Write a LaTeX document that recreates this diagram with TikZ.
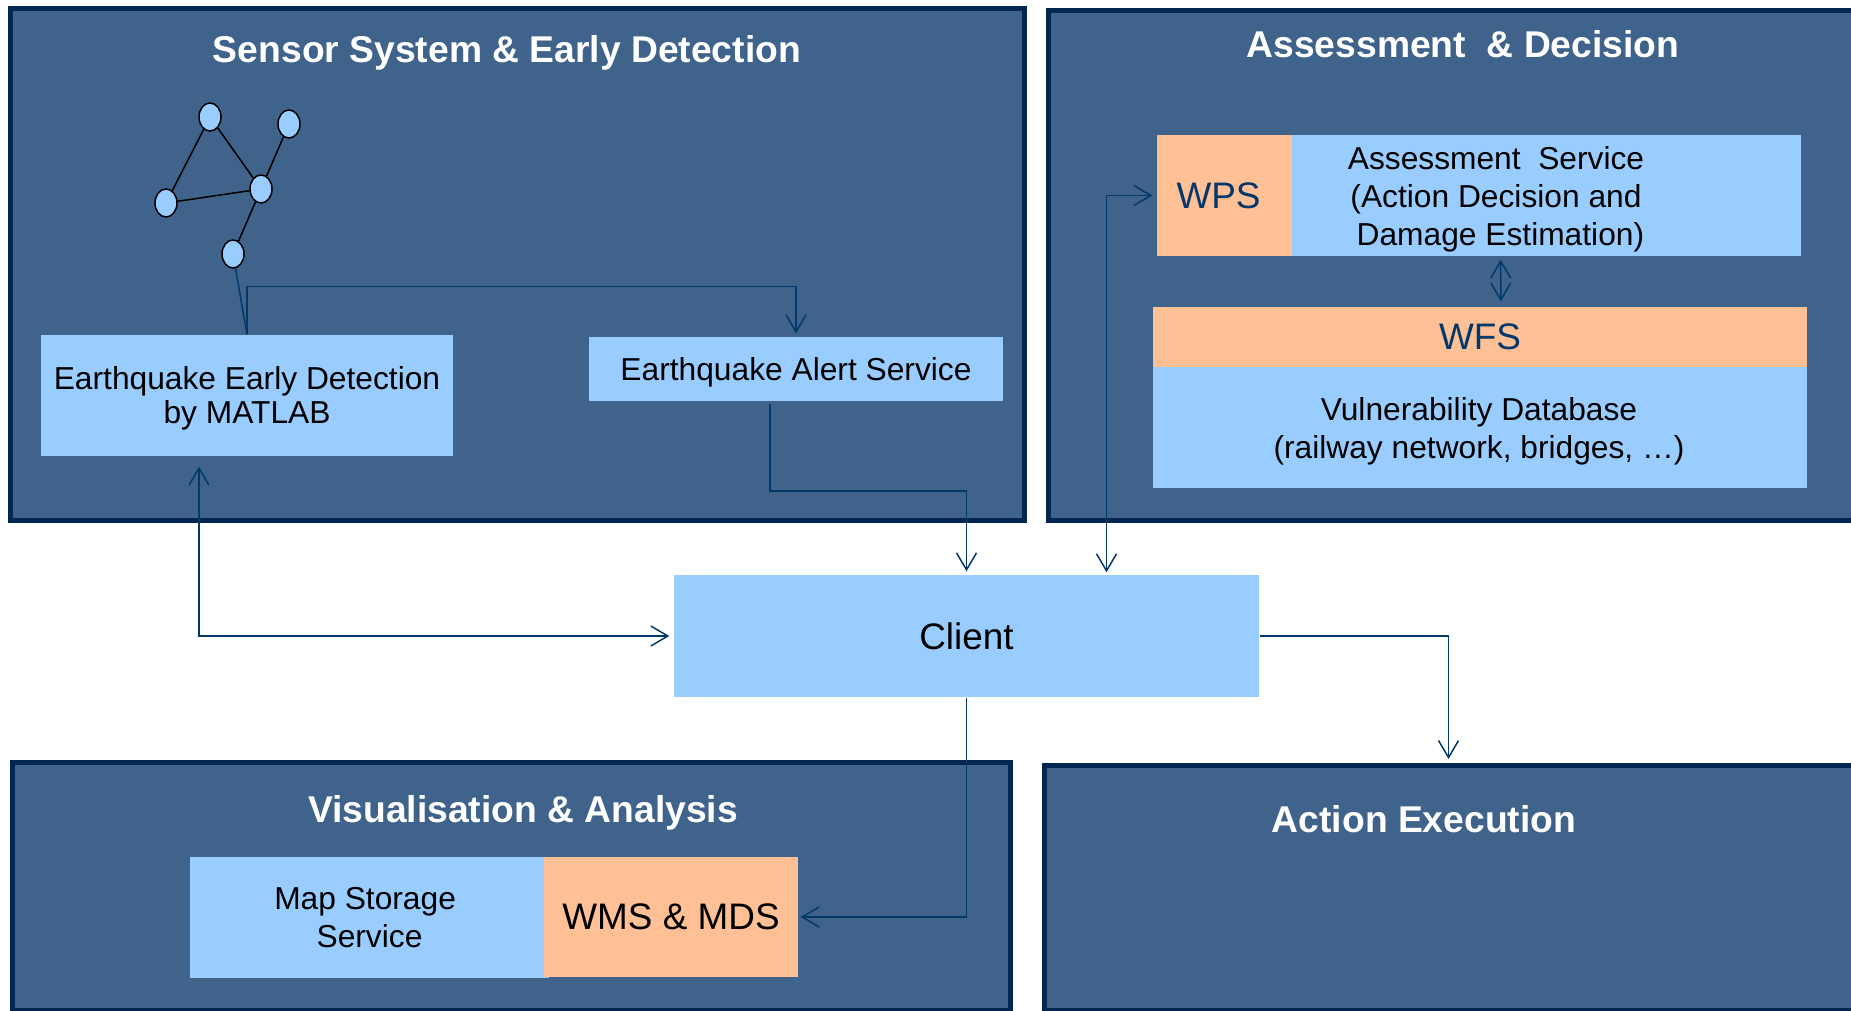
\documentclass[tikz,border=0pt]{standalone}
\usepackage{fontspec}
\setmainfont{Liberation Sans}
\usetikzlibrary{arrows.meta,shapes.geometric}
\definecolor{panelfill}{HTML}{3F638B}
\definecolor{panelline}{HTML}{01264F}
\definecolor{servicefill}{HTML}{99CCFF}
\definecolor{portfill}{HTML}{FFC096}
\definecolor{linkcolor}{HTML}{03386B}

\tikzset{
    panel/.style={rectangle,draw=panelline,fill=panelfill,line width=0.05cm,inner sep=0pt},
    paneltitle/.style={text=white,font=\fontsize{10.6}{12.6}\selectfont\bfseries},
    service/.style={rectangle,fill=servicefill,inner sep=0pt,align=center,font=\fontsize{9.03}{10.8}\selectfont},
    lowtext/.style={service,execute at begin node={\rule{0pt}{8.4pt}}},
    port/.style={rectangle,fill=portfill,inner sep=0pt,align=center,font=\fontsize{10.5}{12.6}\selectfont},
    sensor/.style={ellipse,draw=black,fill=servicefill,line width=0.015cm,inner sep=0pt,minimum width=0.22cm,minimum height=0.28cm},
    link/.style={draw=linkcolor,line width=0.015cm,>={Straight Barb[length=1.7mm,width=2mm]}}
}

\begin{document}
\begin{tikzpicture}
    \useasboundingbox (0,0) rectangle (18.51,10.10);
    % panels
    \node[panel,minimum width=10.14cm,minimum height=5.12cm] (sensing) at (5.175,7.455) {};
    \node[panel,minimum width=8.52cm,minimum height=5.10cm] (assessment) at (14.74,7.44) {};
    \node[panel,minimum width=9.975cm,minimum height=2.48cm] (visual) at (5.1175,1.235) {};
    \node[panel,minimum width=8.55cm,minimum height=2.45cm] (action) at (14.72,1.22) {};
    \begin{scope}[every node/.style={paneltitle}]
        \node (t1) at (5.07,9.575) {Sensor System \& Early Detection};
        \node (t2) at (14.63,9.66) {Assessment\ \ \& Decision};
        \node (t3) at (5.23,1.975) {Visualisation \& Analysis};
        \node (t4) at (14.24,1.91) {Action Execution};
    \end{scope}
    % services
    \node[service,minimum width=4.12cm,minimum height=1.21cm] (eed) at (2.47,6.145) {};
    \node[service] (eedtext) at (2.47,6.12) {Earthquake Early Detection\\[-1.2pt]by MATLAB};
    \node[lowtext,minimum width=4.14cm,minimum height=0.64cm] (alert) at (7.96,6.405) {Earthquake Alert Service};
    \node[port,fill=servicefill,minimum width=5.85cm,minimum height=1.22cm] (client) at (9.665,3.74) {Client};
    \node[service,minimum width=5.09cm,minimum height=1.21cm] (assess) at (15.465,8.145) {};
    \node[service] (assesstext) at (14.96,8.11) {Assessment\ \ Service\\(Action Decision and\\\ Damage Estimation)};
    \node[port,text=linkcolor,minimum width=1.35cm,minimum height=1.21cm] (wps) at (12.245,8.145) {WPS\kern3.4pt};
    \node[port,text=linkcolor,minimum width=6.54cm,minimum height=0.60cm] (wfs) at (14.80,6.73) {WFS};
    \node[service,minimum width=6.54cm,minimum height=1.21cm] (vuln) at (14.80,5.825) {};
    \node[service] (vulntext) at (14.79,5.79) {Vulnerability Database\\(railway network, bridges, …)};
    \node[service,minimum width=3.59cm,minimum height=1.21cm] (map) at (3.695,0.925) {Map Storage\kern2.5pt\\Service};
    \node[port,minimum width=2.54cm,minimum height=1.20cm] (wms) at (6.71,0.93) {WMS \& MDS};
    % sensor network
    \begin{scope}[every node/.style={sensor}]
        \node (n1) at (2.10,8.93) {};
        \node (n2) at (2.89,8.86) {};
        \node (n3) at (2.61,8.21) {};
        \node (n4) at (1.66,8.07) {};
        \node (n5) at (2.33,7.56) {};
    \end{scope}
    \draw[line width=0.015cm] (n1) edge (n3);
    \draw[line width=0.015cm] (n1) edge (n4);
    \draw[line width=0.015cm] (n2) edge (n3);
    \draw[line width=0.015cm] (n4) edge (n3);
    \draw[line width=0.015cm] (n3) edge (n5);
    % connectors
    \draw[link] (n5) -- (eed.north);
    \draw[link,->,shorten >=0.035cm] (eed.north) -- ++(0,0.48) -| (alert.north);
    \draw[link,->,shorten <=0.02cm,shorten >=0.03cm] ([xshift=-0.26cm]alert.south) -- ++(0,-0.89) -| (client.north);
    \draw[link,<->,shorten <=0.10cm,shorten >=0.04cm] ([xshift=-0.48cm]eed.south) |- (client.west);
    \draw[link,<->,shorten <=0.04cm,shorten >=0.02cm] (wps.west) -| ([xshift=1.40cm]client.north);
    \draw[link,<->,shorten <=0.03cm,shorten >=0.05cm] ([xshift=-0.46cm]assess.south) -- ([xshift=0.21cm]wfs.north);
    \draw[link,->,shorten >=0.04cm] (client.east) -| ([xshift=-0.235cm]action.north);
    \draw[link,->,shorten >=0.02cm] (client.south) |- (wms.east);
\end{tikzpicture}
\end{document}
